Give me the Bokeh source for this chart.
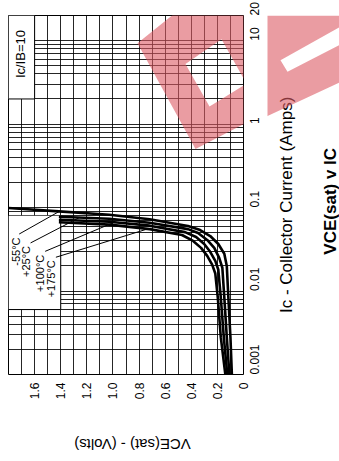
import math
from bokeh.plotting import figure
from bokeh.models import Range1d, FixedTicker
from bokeh.layouts import row, column
from bokeh.core.properties import value
from bokeh.embed import file_html
from bokeh.resources import INLINE

FONT = "Liberation Sans"

# ---------------- data ----------------
# Collector current (A) and VCE(sat) (V) for each temperature curve
ic_m55 = [0.001, 0.0028, 0.0084, 0.020, 0.028, 0.0366, 0.0456, 0.0537, 0.060, 0.0725, 0.082, 0.090, 0.099]
vce_m55 = [0.089, 0.100, 0.116, 0.128, 0.147, 0.193, 0.255, 0.332, 0.425, 0.719, 1.028, 1.414, 1.80]

ic_p25 = [0.001, 0.0028, 0.0084, 0.019, 0.025, 0.0329, 0.0409, 0.0495, 0.0552, 0.0659, 0.0735, 0.0776]
vce_p25 = [0.108, 0.128, 0.147, 0.162, 0.186, 0.224, 0.278, 0.348, 0.425, 0.719, 1.028, 1.414]

ic_p100 = [0.001, 0.0028, 0.0084, 0.018, 0.023, 0.0295, 0.0366, 0.0444, 0.0508, 0.0607, 0.0677, 0.0715]
vce_p100 = [0.124, 0.151, 0.174, 0.193, 0.216, 0.255, 0.301, 0.363, 0.448, 0.719, 1.028, 1.414]

ic_p175 = [0.001, 0.0028, 0.0084, 0.0162, 0.0207, 0.0264, 0.0329, 0.0398, 0.0469, 0.0552, 0.0624, 0.0668]
vce_p175 = [0.139, 0.174, 0.197, 0.216, 0.240, 0.278, 0.325, 0.386, 0.471, 0.719, 1.028, 1.414]

# temperature labels and their leader lines
temp_labels = ["-55°C", "+25°C", "+100°C", "+175°C"]
temp_label_vce = [1.739, 1.665, 1.561, 1.476]
temp_label_ic = [0.0438, 0.0347, 0.0272, 0.0234]
leader_vce_from = [1.718, 1.631, 1.519, 1.437]
leader_ic_from = [0.0482, 0.0377, 0.0299, 0.0254]
leader_vce_to = [1.414, 1.260, 0.989, 0.734]
leader_ic_to = [0.0894, 0.0755, 0.0668, 0.0555]

# ratio note
ratio_text = ["Ic/IB=10"]
ratio_vce = [1.708]
ratio_ic = [6.9]

# white note boxes (VCE left/right, Ic bottom/top)
box_left = [1.8, 1.8]
box_right = [1.6, 1.4]
box_bottom = [2, 0.006]
box_top = [20, 0.08]

# axes
vce_ticks = [0, 0.2, 0.4, 0.6, 0.8, 1.0, 1.2, 1.4, 1.6]
vce_tick_labels = ["0", "0.2", "0.4", "0.6", "0.8", "1.0", "1.2", "1.4", "1.6"]
ic_ticks = [0.001, 0.01, 0.1, 1, 10, 20]
ic_tick_labels = ["0.001", "0.01", "0.1", "1", "10", "20"]
x_title = "VCE(sat) - (Volts)"
y_title = "Ic - Collector Current (Amps)"
chart_title = "VCE(sat) v IC"

vce_grid = [round(0.1 * i, 1) for i in range(1, 18)]
ic_grid = [m * 10.0 ** e for e in range(-3, 2) for m in range(1, 10)] + [20]

# ---------------- layout sizes (pixels) ----------------
MAIN_W, MAIN_H = 267, 402
FRAME_L, FRAME_T, FRAME_W, FRAME_H = 8, 15, 235, 363
SIDE_W = 339 - MAIN_W
FOOT_H = 461 - MAIN_H
VCE_MAX, IC_MIN, IC_MAX = 1.8, 0.001, 20

# pink watermark of the scanned page (page pixels): outline and two holes
wm_outer = [(137, 43), (190, 0), (339, 0), (339, 75), (195, 150)]
wm_hole_a = [(185, 64), (221, 39), (246, 84), (209, 107)]
wm_hole_b = [(280, 50), (339, 13), (339, 33), (287, 63)]
WM_COLOR, WM_ALPHA = "#dc5a64", 0.6


def page_to_main(pts):
    xs = [VCE_MAX * (FRAME_L + FRAME_W - px) / FRAME_W for px, _ in pts]
    dec = math.log10(IC_MAX / IC_MIN)
    ys = [IC_MAX * 10 ** (-(py - FRAME_T) * dec / FRAME_H) for _, py in pts]
    return xs, ys


def page_to_side(pts):
    return [px - MAIN_W for px, _ in pts], [MAIN_H - py for _, py in pts]


def watermark(fig, conv):
    rings = [conv(r) for r in (wm_outer, wm_hole_a, wm_hole_b)]
    fig.multi_polygons(xs=[[[r[0] for r in rings]]], ys=[[[r[1] for r in rings]]],
                       fill_color=WM_COLOR, fill_alpha=WM_ALPHA, line_color=None)


# ---------------- main chart ----------------
p = figure(width=MAIN_W, height=MAIN_H,
           x_range=Range1d(VCE_MAX, 0), y_range=Range1d(IC_MIN, IC_MAX),
           y_axis_type="log", y_axis_location="right",
           output_backend="svg", toolbar_location=None,
           min_border_left=FRAME_L, min_border_top=FRAME_T,
           min_border_right=MAIN_W - FRAME_L - FRAME_W,
           min_border_bottom=MAIN_H - FRAME_T - FRAME_H)
p.background_fill_color = "white"
p.border_fill_color = "white"
p.outline_line_color = "black"
p.outline_line_width = 1

p.xgrid.ticker = FixedTicker(ticks=vce_grid)
p.ygrid.ticker = FixedTicker(ticks=ic_grid)
for g in (p.xgrid[0], p.ygrid[0]):
    g.grid_line_color = "black"
    g.grid_line_width = 1
    g.grid_line_alpha = 0.85

xax = p.xaxis[0]
xax.ticker = FixedTicker(ticks=vce_ticks, minor_ticks=[])
xax.major_label_overrides = dict(zip(vce_ticks, vce_tick_labels))
xax.major_label_orientation = math.pi / 2
xax.major_label_standoff = 2
xax.major_label_text_font = FONT
xax.major_label_text_font_size = "12px"
xax.major_label_text_color = "black"
xax.axis_line_color = None
xax.major_tick_line_color = None
xax.minor_tick_line_color = None

yax = p.yaxis[0]
yax.ticker = FixedTicker(ticks=ic_ticks, minor_ticks=[])
yax.major_label_overrides = dict(zip(ic_ticks, ic_tick_labels))
yax.major_label_orientation = math.pi / 2
yax.major_label_standoff = 5
yax.major_label_text_font = FONT
yax.major_label_text_font_size = "12px"
yax.major_label_text_color = "black"
yax.axis_line_color = None
yax.major_tick_line_color = None
yax.minor_tick_line_color = None

# white note boxes with their inner edges
p.quad(left=box_left, right=box_right, bottom=box_bottom, top=box_top,
       fill_color="white", line_color=None)
p.segment(x0=box_right, y0=box_bottom, x1=box_right, y1=box_top, line_color="black", line_width=1)
p.segment(x0=box_left, y0=box_bottom, x1=box_right, y1=box_bottom, line_color="black", line_width=1)

# curves
for ic, vce in ((ic_m55, vce_m55), (ic_p25, vce_p25), (ic_p100, vce_p100), (ic_p175, vce_p175)):
    p.line(x=vce, y=ic, line_color="black", line_width=2.6, line_join="round")

# leader lines and labels
p.segment(x0=leader_vce_from, y0=leader_ic_from, x1=leader_vce_to, y1=leader_ic_to,
          line_color="black", line_width=1)
p.text(x=temp_label_vce, y=temp_label_ic, text=temp_labels, angle=math.pi / 2,
       text_align="right", text_baseline="middle", text_font=value(FONT),
       text_font_size="11px", text_color="black")
p.text(x=ratio_vce, y=ratio_ic, text=ratio_text, angle=math.pi / 2,
       text_align="center", text_baseline="middle", text_font=value(FONT),
       text_font_size="13px", text_color="black")

watermark(p, page_to_main)

# ---------------- right strip: axis title and chart title ----------------
side = figure(width=SIDE_W, height=MAIN_H, x_range=Range1d(0, SIDE_W), y_range=Range1d(0, MAIN_H),
              x_axis_type=None, y_axis_type=None, output_backend="svg", toolbar_location=None,
              min_border=0)
side.outline_line_color = None
side.background_fill_color = "white"
side.border_fill_color = "white"
side.text(x=[19], y=[MAIN_H - 212], text=[y_title], angle=math.pi / 2,
          text_align="center", text_baseline="middle", text_font=value(FONT),
          text_font_size="17px", text_color="black")
side.text(x=[63], y=[MAIN_H - 208], text=[chart_title], angle=math.pi / 2,
          text_align="center", text_baseline="middle", text_font=value(FONT),
          text_font_size="17px", text_font_style="bold", text_color="black")
watermark(side, page_to_side)

# ---------------- bottom strip: x axis title (upside down as in the reference) ----------------
foot = figure(width=339, height=FOOT_H, x_range=Range1d(0, 339), y_range=Range1d(0, FOOT_H),
              x_axis_type=None, y_axis_type=None, output_backend="svg", toolbar_location=None,
              min_border=0)
foot.outline_line_color = None
foot.background_fill_color = "white"
foot.border_fill_color = "white"
foot.text(x=[132], y=[FOOT_H - (444 - MAIN_H)], text=[x_title], angle=math.pi,
          text_align="center", text_baseline="middle", text_font=value(FONT),
          text_font_size="15px", text_color="black")

layout = column(row(p, side), foot)
open("out.html", "w").write(file_html(layout, INLINE))
